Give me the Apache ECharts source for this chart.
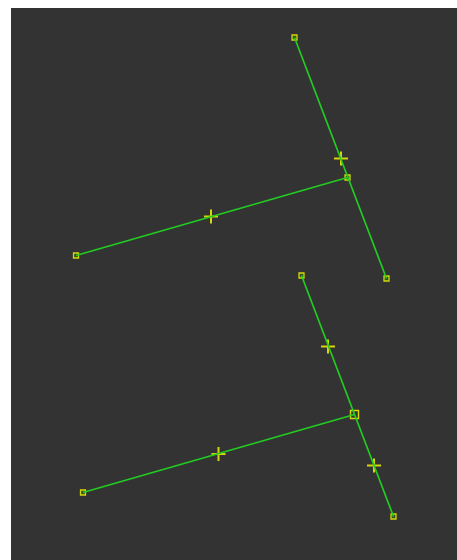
<!DOCTYPE html>
<html><head><meta charset="utf-8">
<script src="https://cdn.jsdelivr.net/npm/echarts@6/dist/echarts.min.js"></script>
<style>
html,body{margin:0;padding:0;background:#fff;width:457px;height:560px;overflow:hidden}
#c{position:absolute;left:11px;top:8px;width:446px;height:552px;background:#333}
</style></head><body>
<div id="c"></div>
<script>
// Segment endpoints (data coords: x right, y down)
const lineA = [[283.5, 29.5], [375.5, 270.5]];
const lineB = [[65, 247.5], [336.5, 169.5]];
const lineC = [[290.5, 267.5], [382.5, 508.5]];
const lineD = [[72, 484.5], [343.5, 406.5]];
// Endpoint squares
const endPoints = [[283.5, 29.5], [375.5, 270.5], [65, 247.5], [336.5, 169.5], [290.5, 267.5], [382.5, 508.5], [72, 484.5]];
// Foot point (large square)
const footPoints = [[343.5, 406.5]];
// Midpoint crosses
const crossPoints = [[330, 150.5], [200, 208.5], [317, 338.5], [363, 457.5], [207.5, 446]];

const GREEN = '#22cc22', YELLOW = '#ffff00';
const lineSeries = d => ({type: 'line', data: d, symbol: 'none', lineStyle: {color: GREEN, width: 1.7}, silent: true, animation: false});
const chart = echarts.init(document.getElementById('c'));
chart.setOption({
  animation: false,
  grid: {left: 0, right: 0, top: 0, bottom: 0},
  xAxis: {type: 'value', min: 0, max: 446, show: false},
  yAxis: {type: 'value', min: 0, max: 552, inverse: true, show: false},
  series: [
    lineSeries(lineA), lineSeries(lineB), lineSeries(lineC), lineSeries(lineD),
    {type: 'scatter', data: endPoints, symbol: 'rect', symbolSize: 5,
     itemStyle: {color: '#2f5a1a', borderColor: YELLOW, borderWidth: 1.3}},
    {type: 'scatter', data: footPoints, symbol: 'rect', symbolSize: 8,
     itemStyle: {color: 'rgba(0,0,0,0)', borderColor: YELLOW, borderWidth: 1.4}},
    {type: 'scatter', data: crossPoints, symbol: 'path://M0,6h14v2h-14z M6,0h2v14h-2z', symbolSize: 14,
     itemStyle: {color: YELLOW}}
  ]
});
</script></body></html>
